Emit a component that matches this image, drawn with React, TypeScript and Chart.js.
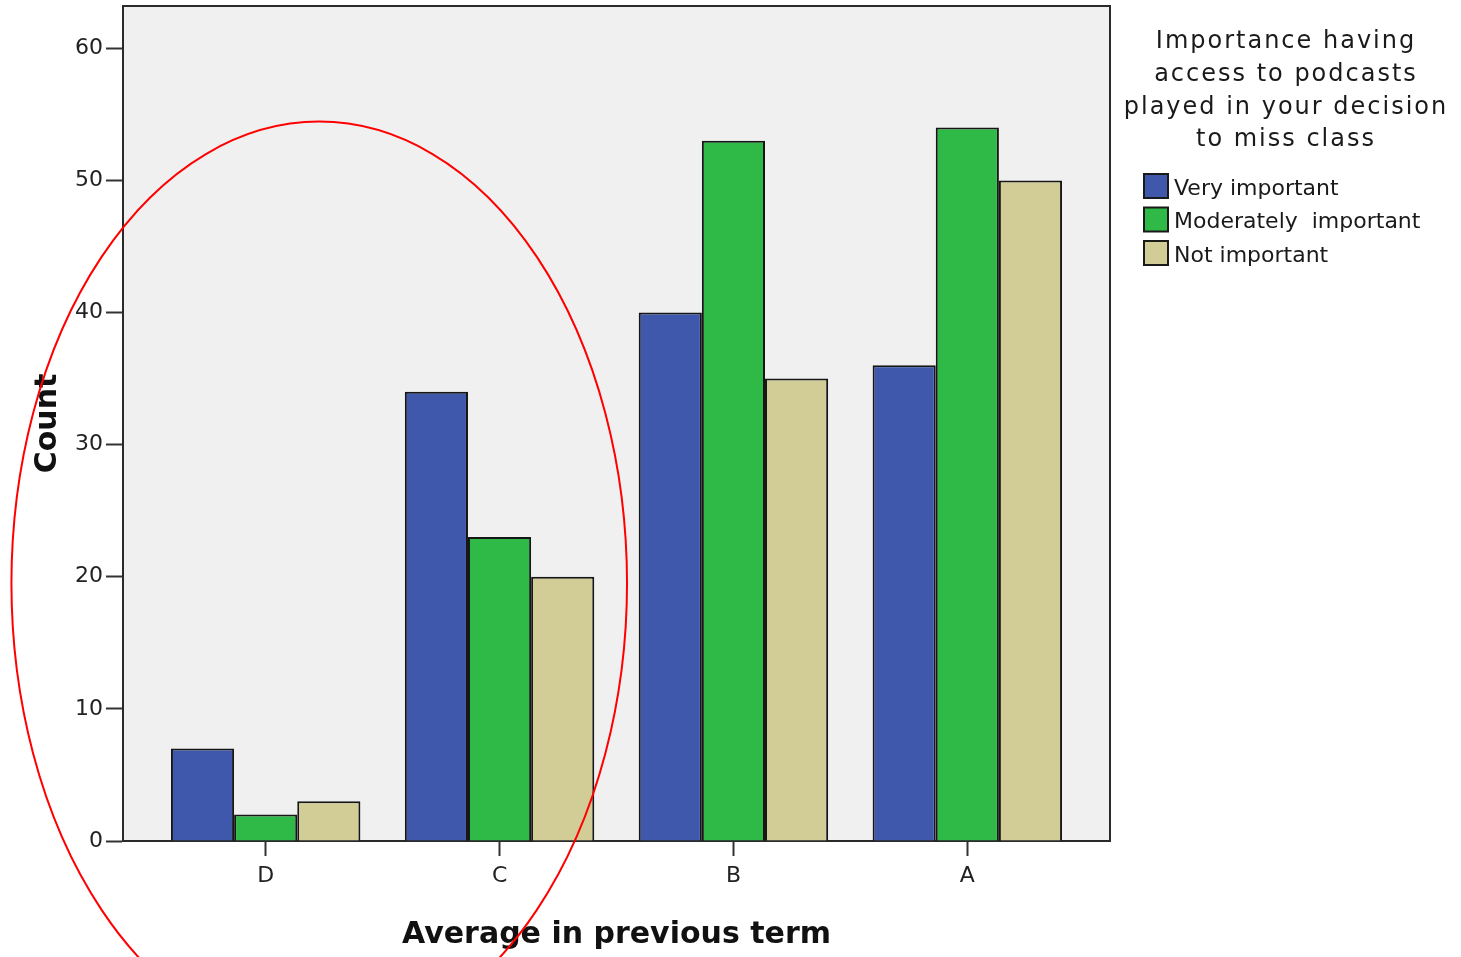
import { useEffect, useRef } from "react";
import { Chart, registerables } from "chart.js";

Chart.register(...registerables);

const categories = ["D", "C", "B", "A"];
const veryImportant = [7, 34, 40, 36];
const moderatelyImportant = [2, 23, 53, 54];
const notImportant = [3, 20, 35, 50];
const seriesLabels = ["Very important", "Moderately  important", "Not important"];
const seriesColors = ["#3f58ab", "#2fb947", "#d2cd97"];
const yTicks = [0, 10, 20, 30, 40, 50, 60];
const legendTitle = ["Importance having", "access to podcasts", "played in your decision", "to miss class"];

// hand-drawn highlight ellipse, in data units
const highlightCenter = { x: 0.229, y: 19.5 };
const highlightRadius = { x: 1.316, y: 34.95 };

const W = 1461;
const H = 957;

const decorPlugin = {
  id: "decor",
  beforeDraw(chart: any) {
    const { ctx, chartArea: a } = chart;
    ctx.save();
    ctx.fillStyle = "#ffffff";
    ctx.fillRect(0, 0, chart.width, chart.height);
    ctx.fillStyle = "#f0f0f0";
    ctx.fillRect(a.left, a.top, a.right - a.left, a.bottom - a.top);
    ctx.restore();
  },
  afterDraw(chart: any) {
    const { ctx, chartArea: a, scales } = chart;
    ctx.save();
    // frame
    ctx.strokeStyle = "#2a2a2a";
    ctx.lineWidth = 2;
    ctx.beginPath();
    ctx.moveTo(a.left, a.top);
    ctx.lineTo(a.right, a.top);
    ctx.lineTo(a.right, a.bottom);
    ctx.stroke();

    // ellipse annotation
    const cx = scales.x.getPixelForValue(highlightCenter.x);
    const cy = scales.y.getPixelForValue(highlightCenter.y);
    const rx = Math.abs(scales.x.getPixelForValue(highlightCenter.x + highlightRadius.x) - cx);
    const ry = Math.abs(scales.y.getPixelForValue(highlightCenter.y + highlightRadius.y) - cy);
    ctx.strokeStyle = "#ff0000";
    ctx.lineWidth = 2;
    ctx.beginPath();
    ctx.ellipse(cx, cy, rx, ry, 0, 0, Math.PI * 2);
    ctx.stroke();

    // legend
    const lx = a.right + 176;
    ctx.fillStyle = "#1a1a1a";
    ctx.textAlign = "center";
    ctx.textBaseline = "middle";
    ctx.font = "24px 'DejaVu Sans'";
    try {
      (ctx as any).letterSpacing = "2px";
    } catch (e) {}
    legendTitle.forEach((line, i) => {
      ctx.fillText(line, lx, 42 + i * 32.7);
    });
    try {
      (ctx as any).letterSpacing = "0px";
    } catch (e) {}
    ctx.textAlign = "left";
    ctx.font = "22px 'DejaVu Sans'";
    chart.data.datasets.forEach((ds: any, i: number) => {
      const y = 186 + i * 33.5;
      ctx.fillStyle = ds.backgroundColor;
      ctx.fillRect(a.right + 34, y - 12, 24, 24);
      ctx.strokeStyle = "#1a1a1a";
      ctx.lineWidth = 2;
      ctx.strokeRect(a.right + 34, y - 12, 24, 24);
      ctx.fillStyle = "#1a1a1a";
      ctx.fillText(ds.label, a.right + 64, y + 3);
    });
    ctx.restore();
  },
};

export default function App() {
  const ref = useRef<HTMLCanvasElement | null>(null);

  useEffect(() => {
    document.body.style.margin = "0";
    const canvas = ref.current;
    if (!canvas) return;
    const seriesValues = [veryImportant, moderatelyImportant, notImportant];
    const chart = new Chart(canvas, {
      type: "bar",
      data: {
        datasets: seriesValues.map((vals, s) => ({
          label: seriesLabels[s],
          data: vals.map((v, i) => ({ x: i, y: v })),
          backgroundColor: seriesColors[s],
          borderColor: "#161616",
          borderWidth: 2,
          categoryPercentage: 0.81,
          barPercentage: 1.0,
        })),
      },
      options: {
        animation: false,
        responsive: false,
        devicePixelRatio: 1,
        layout: { padding: { left: 0, top: 6, right: W - 1110, bottom: 0 } },
        plugins: {
          legend: { display: false },
          tooltip: { enabled: false },
        },
        scales: {
          x: {
            type: "linear",
            offset: false,
            min: -0.61,
            max: 3.61,
            afterBuildTicks: (scale: any) => {
              scale.ticks = categories.map((_, i) => ({ value: i }));
            },
            afterFit: (scale: any) => {
              scale.height = H - 841;
              scale.paddingLeft = 0;
              scale.paddingRight = 0;
            },
            ticks: {
              callback: (v: any) => categories[v] ?? "",
              color: "#222",
              font: { family: "'DejaVu Sans'", size: 22 },
              padding: 7,
              maxRotation: 0,
            },
            grid: {
              offset: false,
              drawOnChartArea: false,
              drawTicks: true,
              tickLength: 15,
              tickColor: "#333",
              tickWidth: 2,
            },
            border: { display: true, color: "#2a2a2a", width: 2 },
            title: {
              display: true,
              text: "Average in previous term",
              color: "#111",
              font: { family: "'DejaVu Sans'", size: 30, weight: "bold" },
              padding: { top: 0, bottom: 4 },
            },
          },
          y: {
            type: "linear",
            min: 0,
            max: 63.2,
            afterBuildTicks: (scale: any) => {
              scale.ticks = yTicks.map((v) => ({ value: v }));
            },
            afterFit: (scale: any) => {
              scale.width = 123;
              scale.paddingTop = 0;
              scale.paddingBottom = 0;
            },
            ticks: {
              color: "#222",
              font: { family: "'DejaVu Sans'", size: 22 },
              padding: 3,
            },
            grid: {
              drawOnChartArea: false,
              drawTicks: true,
              tickLength: 17,
              tickColor: "#333",
              tickWidth: 2,
            },
            border: { display: true, color: "#2a2a2a", width: 2 },
            title: {
              display: true,
              text: "Count",
              color: "#111",
              font: { family: "'DejaVu Sans'", size: 30, weight: "bold" },
              padding: { top: 30, bottom: 0 },
            },
          },
        },
      },
      plugins: [decorPlugin],
    } as any);
    return () => chart.destroy();
  }, []);

  return (
    <div style={{ width: W, height: H }}>
      <canvas ref={ref} width={W} height={H} style={{ display: "block", width: W, height: H }} />
    </div>
  );
}
